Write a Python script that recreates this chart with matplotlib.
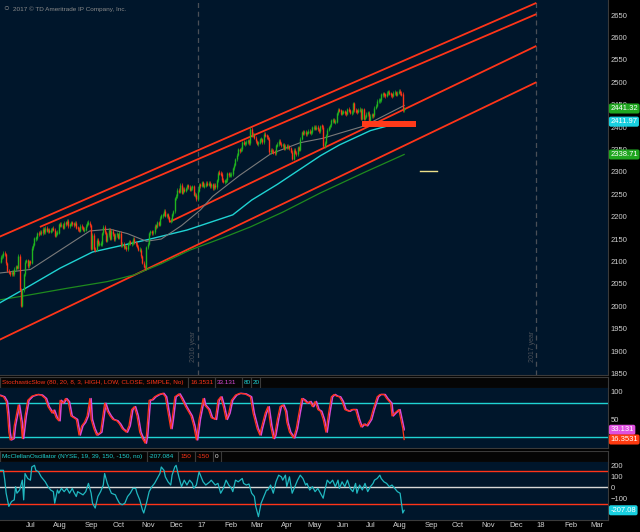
import matplotlib
matplotlib.use("Agg")
import matplotlib.pyplot as plt
from matplotlib.patches import Rectangle
import numpy as np

W, H = 640, 532

# S&P 500 daily closes, one per trading day, 3 Jun 2016 .. 11 Aug 2017
closes = [
    # Jun 2016
    2099, 2110, 2112, 2119, 2116, 2096, 2079, 2075, 2072, 2077,
    2071, 2083, 2089, 2086, 2113, 2037, 2001, 2036, 2071, 2099,
    # Jul 2016
    2103, 2089, 2100, 2097, 2130, 2137, 2152, 2152, 2163, 2162,
    2166, 2163, 2173, 2165, 2175, 2169, 2170, 2167, 2170, 2174,
    # Aug 2016
    2171, 2157, 2164, 2164, 2183, 2181, 2182, 2175, 2186, 2184,
    2191, 2179, 2182, 2187, 2184, 2182, 2186, 2175, 2173, 2169,
    2180, 2176, 2171,
    # Sep 2016
    2171, 2180, 2186, 2186, 2181, 2128, 2159, 2127, 2126, 2148,
    2139, 2139, 2139, 2163, 2177, 2165, 2146, 2159, 2171, 2151, 2168,
    # Oct 2016
    2161, 2150, 2160, 2161, 2153, 2164, 2136, 2139, 2132, 2133,
    2127, 2140, 2144, 2141, 2141, 2151, 2143, 2139, 2133, 2126, 2126,
    # Nov 2016
    2111, 2097, 2088, 2085, 2132, 2140, 2163, 2167, 2164, 2165,
    2180, 2177, 2187, 2182, 2198, 2203, 2204, 2213, 2202, 2205, 2199,
    # Dec 2016
    2191, 2192, 2205, 2212, 2241, 2246, 2260, 2256, 2271, 2253,
    2262, 2258, 2263, 2270, 2266, 2260, 2264, 2268, 2249, 2249, 2239,
    # Jan 2017
    2258, 2271, 2269, 2277, 2269, 2269, 2275, 2271, 2275, 2268,
    2272, 2264, 2271, 2266, 2281, 2298, 2297, 2295, 2281, 2279,
    # Feb 2017
    2279, 2281, 2297, 2293, 2293, 2295, 2308, 2316, 2328, 2338,
    2350, 2347, 2351, 2366, 2363, 2364, 2367, 2370, 2364,
    # Mar 2017
    2396, 2382, 2383, 2376, 2368, 2363, 2365, 2373, 2373, 2366,
    2385, 2381, 2378, 2374, 2344, 2349, 2346, 2344, 2342, 2359,
    2361, 2369, 2363,
    # Apr 2017
    2359, 2360, 2352, 2358, 2355, 2357, 2353, 2345, 2329, 2349,
    2343, 2339, 2355, 2349, 2374, 2388, 2387, 2389, 2384,
    # May 2017
    2388, 2391, 2388, 2389, 2399, 2399, 2397, 2400, 2395, 2391,
    2402, 2401, 2357, 2365, 2382, 2394, 2399, 2404, 2415, 2416,
    2412, 2412,
    # Jun 2017
    2431, 2439, 2437, 2430, 2433, 2434, 2432, 2430, 2440, 2437,
    2432, 2433, 2453, 2437, 2436, 2435, 2438, 2439, 2419, 2440,
    2419, 2423,
    # Jul 2017
    2429, 2432, 2410, 2425, 2427, 2426, 2443, 2448, 2459, 2459,
    2460, 2473, 2474, 2472, 2470, 2477, 2478, 2475, 2472, 2470,
    # Aug 2017
    2476, 2478, 2472, 2477, 2481, 2475, 2474, 2438, 2441.32,
]

month_names = ["Jul", "Aug", "Sep", "Oct", "Nov", "Dec", "17", "Feb", "Mar", "Apr",
               "May", "Jun", "Jul", "Aug", "Sep", "Oct", "Nov", "Dec", "18", "Feb", "Mar"]
month_first_bar = [20, 40, 63, 84, 105, 126, 147, 167, 186, 209,
                   228, 250, 272, 292, 315, 335, 357, 378, 398, 419, 438]
year_bars = [147, 398]
year_texts = ["2016 year", "2017 year"]

# moving averages (bar, value)
sma_gray = [(0, 2074), (23, 2082), (45, 2125), (67, 2168), (82, 2172), (95, 2162),
            (109, 2145), (120, 2150), (135, 2180), (149, 2215), (158, 2245),
            (178, 2292), (201, 2340), (223, 2365), (240, 2375), (252, 2386),
            (270, 2402), (285, 2425), (300, 2448)]
sma_cyan = [(0, 2007), (17, 2036), (45, 2085), (69, 2121), (109, 2148), (139, 2170),
            (173, 2204), (187, 2237), (206, 2272), (238, 2336), (252, 2360),
            (275, 2392), (297, 2410), (300, 2411.97)]
sma_green = [(0, 2014), (20, 2024), (50, 2040), (80, 2055), (100, 2070), (120, 2095),
             (141, 2125), (165, 2152), (186, 2177), (210, 2210), (238, 2253),
             (270, 2298), (300, 2338.71)]

# trend channel lines ((bar, price), (bar, price))
channels = [((0, 2155), (398, 2677)),
            ((30, 2177), (398, 2652)),
            ((126, 2188), (398, 2581)),
            ((0, 1925), (398, 2500))]
support_zone = (269, 309, 2401, 2413)   # bar from, bar to, price low, price high
yellow_mark = (312, 324, 2302)

# StochasticSlow %K (bar, value)
stoch_k = [(0, 92.6), (3, 90), (5, 82), (6, 62), (7, 29), (8, 15.6), (10, 18), (11, 40),
           (14, 76), (16, 46), (17, 18), (19, 57), (21, 84), (24, 91), (28, 94), (31, 93),
           (34, 87), (36, 73), (39, 62), (40, 67), (42, 54), (44, 48.6), (45, 84), (47, 79),
           (49, 87), (51, 81.6), (53, 57), (55, 54), (57, 51), (59, 24), (61, 40), (63, 46),
           (65, 57), (67, 87), (68, 51), (70, 35), (72, 24), (75, 29), (77, 62), (78, 79),
           (80, 65), (82, 57), (84, 51), (87, 48.6), (89, 43), (91, 35), (94, 29), (96, 40),
           (98, 68), (100, 73), (102, 57), (104, 29), (106, 18), (108, 10), (109, 24),
           (111, 84), (113, 85), (115, 90), (118, 94), (121, 96), (123, 90), (125, 62),
           (127, 35), (128, 51), (130, 90), (133, 95), (135, 87), (138, 73), (140, 65),
           (142, 57), (144, 40), (146, 15.6), (148, 51), (151, 87), (152, 76), (155, 68),
           (157, 54), (160, 51), (162, 84), (164, 90), (166, 73), (168, 51), (170, 62),
           (172, 84), (175, 93), (178, 96), (182, 95), (186, 90), (188, 62), (191, 35),
           (193, 24), (194, 35), (197, 62), (199, 73), (201, 40), (203, 18), (204, 24),
           (206, 51), (208, 73), (210, 76), (212, 65), (213, 46), (215, 29), (218, 19),
           (220, 35), (222, 62), (224, 87), (226, 84), (228, 79), (230, 82), (232, 73),
           (234, 82), (236, 68), (238, 65), (240, 51), (242, 29), (244, 62), (246, 90),
           (248, 94), (250, 91), (252, 90), (254, 82), (256, 68), (259, 65), (261, 68),
           (264, 68), (266, 51), (268, 38), (270, 43), (272, 40), (275, 51), (277, 68),
           (280, 90), (282, 94), (285, 94), (287, 87), (290, 79), (291, 57), (293, 62),
           (296, 68), (297, 57), (299, 35), (300, 16.3531)]
stoch_d_last = 33.131

# McClellan oscillator (bar, value)
mcclellan = [(0, 154), (3, 154), (4, 65), (5, -53), (7, -172), (9, -128), (11, -113), (12, 6),
             (13, -53), (15, -24), (17, 65), (18, -113), (19, 125), (21, 80), (23, 65),
             (24, 184), (26, 199), (27, 154), (29, 140), (31, 95), (34, 50), (36, 6),
             (38, -24), (40, -39), (41, -143), (43, -24), (44, -53), (46, -9), (48, -39),
             (50, -9), (52, -53), (54, -9), (55, -39), (57, -83), (58, -39), (60, -53),
             (62, -68), (64, -39), (66, 36), (68, -53), (69, -143), (71, -187), (73, -83),
             (75, -39), (77, 21), (78, 125), (80, 36), (82, -24), (83, -53), (86, -68),
             (87, -98), (89, -143), (91, -157), (93, -143), (95, -83), (97, -53), (99, -9),
             (101, -9), (102, -53), (104, -113), (106, -202), (107, -232), (109, -143),
             (111, -39), (113, 6), (115, 36), (117, 80), (119, 125), (120, 184), (122, 154),
             (123, 95), (125, 50), (127, 21), (128, 110), (130, 184), (131, 199), (133, 95),
             (135, 6), (137, 65), (139, 21), (141, 65), (143, 36), (144, -9), (146, 21),
             (148, 140), (151, 50), (153, 21), (156, 50), (157, 65), (160, 21), (162, 36),
             (164, -53), (166, -9), (168, 65), (170, 21), (172, -9), (173, -39), (175, 65),
             (177, 50), (180, 80), (181, 36), (183, 21), (185, 30), (187, -53), (189, -83),
             (190, -172), (192, -265), (193, -202), (194, -143), (196, -83), (198, -24),
             (199, -24), (201, 21), (203, -53), (205, 50), (207, 110), (209, 95), (210, 65),
             (212, 110), (213, 6), (215, 95), (217, -53), (219, 6), (221, 65), (223, 110),
             (225, 80), (227, 21), (228, 36), (230, -24), (232, 6), (234, -39), (236, -9),
             (238, -53), (240, -98), (241, -39), (243, 65), (245, 36), (247, 65), (249, 6),
             (251, 65), (252, -9), (254, 50), (256, 6), (258, 65), (260, -9), (262, -39),
             (264, 36), (265, -53), (267, 21), (269, -24), (271, 36), (273, -39), (275, 6),
             (277, 36), (278, 65), (280, 80), (282, 110), (283, 80), (285, 50), (287, 36),
             (289, 6), (291, 21), (293, -9), (295, -39), (297, -53), (298, -143),
             (299, -232), (300, -207.084)]

# colours
BG = "#00162b"
RED = "#ff3418"
GREEN = "#1fb41f"
CYAN = "#1fd3d3"
MAGENTA = "#d84ad8"
GRID = "#3a3a3a"
LABEL = "#d0d0d0"

plt.rcParams["font.family"] = ["Liberation Sans", "DejaVu Sans"]

XLIM = (0.45, 451.1)


def px_rect(x0, y0, x1, y1):
    return [x0 / W, 1 - y1 / H, (x1 - x0) / W, (y1 - y0) / H]


def style_panel(ax):
    ax.set_facecolor(BG)
    ax.set_xlim(*XLIM)
    for s in ("top", "left"):
        ax.spines[s].set_visible(False)
    for s in ("bottom", "right"):
        ax.spines[s].set_color(GRID)
        ax.spines[s].set_linewidth(0.8)
    ax.yaxis.tick_right()
    ax.tick_params(axis="y", length=0, pad=2, labelsize=5.5, labelcolor=LABEL)
    ax.set_xticks([])


def bubble(ax, y, text, fc, tc="white"):
    ax.text(1.004, y, text, transform=ax.get_yaxis_transform(), ha="left", va="center",
            fontsize=5.5, color=tc, clip_on=False, zorder=10,
            bbox=dict(boxstyle="round,pad=0.2,rounding_size=0.25", fc=fc, ec="none"))


def header(rect, boxes):
    hx = fig.add_axes(px_rect(*rect))
    hx.set_facecolor("#050505")
    hx.set_xlim(0, 608)
    hx.set_ylim(0, 1)
    hx.set_xticks([])
    hx.set_yticks([])
    for s in hx.spines.values():
        s.set_color(GRID)
        s.set_linewidth(0.8)
    for text, col, x0, x1 in boxes:
        hx.add_patch(Rectangle((x0, 0), x1 - x0, 1, fc="none", ec=GRID, lw=0.8))
        hx.text(x0 + 2.2, 0.5, text, color=col, fontsize=4.55, va="center", ha="left")


fig = plt.figure(figsize=(W / 100, H / 100), dpi=100, facecolor="black")

# ---------------- price panel ----------------
ax = fig.add_axes(px_rect(0, 0, 608, 375))
style_panel(ax)
ax.set_ylim(1846.5, 2683.5)
ax.set_yticks(range(1850, 2651, 50))

for b, t in zip(year_bars, year_texts):
    ax.axvline(b, color="#4a4f57", lw=0.9, ls=(0, (4, 3)))
    ax.text(b - 3.2, 1875, t, rotation=90, ha="center", va="bottom", fontsize=5,
            color="#4a4f57")

for (b0, p0), (b1, p1) in channels:
    ax.plot([b0, b1], [p0, p1], color=RED, lw=1.3, solid_capstyle="butt")

for pts, col, lw in ((sma_green, "#1e8a1e", 0.9), (sma_cyan, CYAN, 1.0), (sma_gray, "#7a7a7a", 0.8)):
    xs, ys = zip(*pts)
    ax.plot(xs, ys, color=col, lw=lw)

c = np.array(closes, dtype=float)
o = np.r_[c[0], c[:-1]]
bars = np.arange(len(c))
up = c >= o
lo = np.minimum(o, c)
hi = np.maximum(o, c)
pad = np.clip(4 - (hi - lo), 0, None) / 2
cols = np.where(up, GREEN, RED)
ax.vlines(bars, lo - pad - 3.5, hi + pad + 3.5, colors=cols, lw=0.5)
ax.vlines(bars, lo - pad, hi + pad, colors=cols, lw=1.0)

z0, z1, zlo, zhi = support_zone
ax.add_patch(Rectangle((z0, zlo), z1 - z0, zhi - zlo, fc="#ff3a1a", ec="none", zorder=4))
ax.plot([yellow_mark[0], yellow_mark[1]], [yellow_mark[2]] * 2, color="#ece08a", lw=1.0)

bubble(ax, closes[-1], f"{closes[-1]:.2f}", "#1fa61f")
bubble(ax, sma_cyan[-1][1], f"{sma_cyan[-1][1]:.2f}", "#19d0e0")
bubble(ax, sma_green[-1][1], f"{sma_green[-1][1]:.2f}", "#1fa61f")

fig.text(13 / W, 1 - 9 / H, "2017 \u00a9 TD Ameritrade IP Company, Inc.", fontsize=4.6,
         color="#8a8a8a", va="center", ha="left")
fig.text(6.5 / W, 1 - 8.5 / H, "\u25cb", fontsize=7, color="#8a8a8a", va="center", ha="center")

# ---------------- stochastic ----------------
header((0, 377, 608, 388),
       [("StochasticSlow (80, 20, 8, 3, HIGH, LOW, CLOSE, SIMPLE, No)", RED, 0, 188),
        ("16.3531", RED, 188, 215), ("33.131", MAGENTA, 215, 242),
        ("80", CYAN, 242, 251), ("20", CYAN, 251, 260)])

sx = fig.add_axes(px_rect(0, 388, 608, 448))
style_panel(sx)
sx.set_ylim(1.7, 105.2)
sx.set_yticks([50, 100])
sx.axhline(80, color=CYAN, lw=1.0)
sx.axhline(20, color=CYAN, lw=1.0)
kx, ky = zip(*stoch_k)
dx = [min(v + 1, 300) for v in kx]
dy = list(ky[:-1]) + [stoch_d_last]
sx.plot(dx, dy, color=MAGENTA, lw=1.1)
sx.plot(kx, ky, color=RED, lw=0.9)
bubble(sx, stoch_d_last, "33.131", "#e050e0")
bubble(sx, ky[-1], "16.3531", "#ff3a10")

# ---------------- McClellan ----------------
header((0, 451, 608, 462),
       [("McClellanOscillator (NYSE, 19, 39, 150, -150, no)", CYAN, 0, 147),
        ("-207.084", CYAN, 147, 178), ("150", RED, 178, 195),
        ("-150", RED, 195, 213), ("0", "#e8e8e8", 213, 221)])

mx = fig.add_axes(px_rect(0, 462, 608, 520))
style_panel(mx)
mx.set_ylim(-295, 229)
mx.set_yticks([-100, 0, 100, 200])
mx.axhline(150, color=RED, lw=1.0)
mx.axhline(-150, color=RED, lw=1.0)
mx.axhline(0, color="#d8d8d8", lw=1.0)
mcx, mcy = zip(*mcclellan)
mx.plot(mcx, mcy, color="#20b8c0", lw=0.9)
bubble(mx, mcy[-1], "-207.08", "#19d0e0")

mx.set_xticks(month_first_bar)
mx.set_xticklabels(month_names, ha="left")
mx.tick_params(axis="x", length=0, pad=1.5, labelsize=5.5, labelcolor=LABEL)

fig.savefig("out.png", dpi=100, facecolor="black")
